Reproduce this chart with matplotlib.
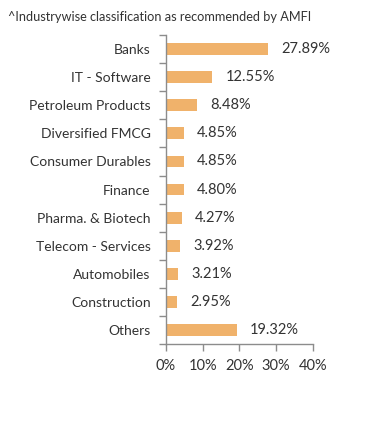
import numpy as np
import matplotlib.pyplot as plt
from matplotlib.ticker import FixedLocator, NullFormatter

categories = ['Banks', 'IT - Software', 'Petroleum Products', 'Diversified FMCG',
              'Consumer Durables', 'Finance', 'Pharma. & Biotech', 'Telecom - Services',
              'Automobiles', 'Construction', 'Others']
weights = [27.89, 12.55, 8.48, 4.85, 4.85, 4.80, 4.27, 3.92, 3.21, 2.95, 19.32]
x_ticks = [0, 10, 20, 30, 40]

plt.rcParams['font.family'] = ['Lato', 'DejaVu Sans']
text_color = '#333333'
axis_color = '#8c8c8c'

fig = plt.figure(figsize=(3.92, 4.33), dpi=100)
ax = fig.add_axes([0.4235, 0.2055, 0.798 - 0.4235, 0.919 - 0.2055])

y = np.arange(len(categories))
ax.barh(y, weights, height=0.42, color='#F0B26B')
for yi, w in zip(y, weights):
    ax.annotate(f'{w:.2f}%', (w, yi), xytext=(9.5, 0), textcoords='offset points',
                va='center', ha='left', fontsize=10.5, color=text_color)

ax.set_ylim(len(categories) - 0.5, -0.5)
ax.set_xlim(0, 40)
ax.set_yticks(y)
ax.set_yticklabels(categories, fontsize=10, color=text_color)
ax.tick_params(axis='y', which='major', length=0, pad=11)
ax.yaxis.set_minor_locator(FixedLocator(np.arange(-0.5, len(categories), 1)))
ax.yaxis.set_minor_formatter(NullFormatter())
ax.tick_params(axis='y', which='minor', length=5, color=axis_color, width=1)

ax.set_xticks(x_ticks)
ax.set_xticklabels([f'{t}%' for t in x_ticks], fontsize=10.5, color=text_color)
ax.tick_params(axis='x', length=5, color=axis_color, width=1, pad=6)

for s in ['top', 'right']:
    ax.spines[s].set_visible(False)
for s in ['left', 'bottom']:
    ax.spines[s].set_color(axis_color)
    ax.spines[s].set_linewidth(1)

fig.text(8 / 392, 1 - 17 / 433, '^Industrywise classification as recommended by AMFI',
         fontsize=9.2, color=text_color, va='center', ha='left')

fig.savefig('out.png', dpi=100, facecolor='white')
